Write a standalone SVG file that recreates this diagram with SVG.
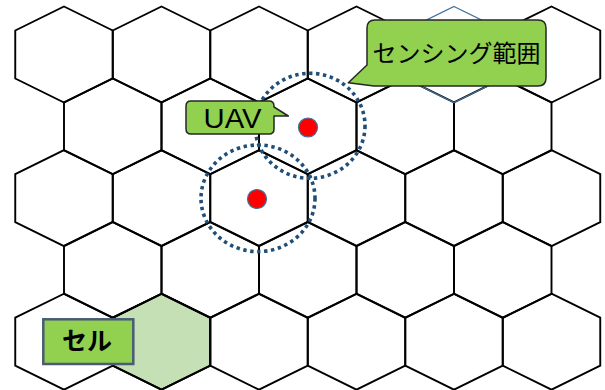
<svg xmlns="http://www.w3.org/2000/svg" xmlns:xlink="http://www.w3.org/1999/xlink" width="605" height="390" viewBox="0 0 605 390">
<style>
.h{fill:none;stroke:#000;stroke-width:1.9;stroke-linejoin:miter}
.hb{fill:none;stroke:#41719C;stroke-width:1.3}
.hg{fill:#C5E0B4;stroke:#000;stroke-width:1.9}
.rng{fill:none;stroke:#1F4E79;stroke-width:3.6;stroke-dasharray:3.4 3.6}
.dot{fill:#FF0000;stroke:#41719C;stroke-width:1.2}
.call{fill:#92D050;stroke:#262626;stroke-width:1.5;stroke-linejoin:round}
.jp{font-family:"Noto Sans CJK JP","Noto Sans",sans-serif;fill:#000}
.lat{font-family:"Liberation Sans","Noto Sans",sans-serif;fill:#000}
</style>
<defs>
<polygon id="hex" points="0,-48 48.75,-24 48.75,24 0,48 -48.75,24 -48.75,-24"/>
</defs>
<rect width="605" height="390" fill="#fff"/>
<g id="grid">
<use href="#hex" class="hg" x="161.5" y="341.7"/>
<g id="row1">
<use href="#hex" class="h" x="64" y="54.5"/>
<use href="#hex" class="h" x="161.5" y="54.5"/>
<use href="#hex" class="h" x="259" y="54.5"/>
<use href="#hex" class="h" x="356.5" y="54.5"/>
<use href="#hex" class="h" x="551.5" y="54.5"/>
</g>
<g id="row2">
<use href="#hex" class="h" x="112.75" y="126.3"/>
<use href="#hex" class="h" x="210.25" y="126.3"/>
<use href="#hex" class="h" x="307.75" y="126.3"/>
<use href="#hex" class="h" x="405.25" y="126.3"/>
<use href="#hex" class="h" x="502.75" y="126.3"/>
</g>
<g id="row3">
<use href="#hex" class="h" x="64" y="198.1"/>
<use href="#hex" class="h" x="161.5" y="198.1"/>
<use href="#hex" class="h" x="259" y="198.1"/>
<use href="#hex" class="h" x="356.5" y="198.1"/>
<use href="#hex" class="h" x="454" y="198.1"/>
<use href="#hex" class="h" x="551.5" y="198.1"/>
</g>
<g id="row4">
<use href="#hex" class="h" x="112.75" y="269.9"/>
<use href="#hex" class="h" x="210.25" y="269.9"/>
<use href="#hex" class="h" x="307.75" y="269.9"/>
<use href="#hex" class="h" x="405.25" y="269.9"/>
<use href="#hex" class="h" x="502.75" y="269.9"/>
</g>
<g id="row5">
<use href="#hex" class="h" x="64" y="341.7"/>
<use href="#hex" class="h" x="161.5" y="341.7"/>
<use href="#hex" class="h" x="259" y="341.7"/>
<use href="#hex" class="h" x="356.5" y="341.7"/>
<use href="#hex" class="h" x="454" y="341.7"/>
<use href="#hex" class="h" x="551.5" y="341.7"/>
</g>
<use href="#hex" class="hb" x="454" y="54.5"/>
</g>
<g id="range1"><ellipse class="rng" cx="310" cy="125.8" rx="55" ry="52.5"/></g>
<g id="range2"><ellipse class="rng" cx="258" cy="198.3" rx="57" ry="53.3"/></g>
<g id="uav1"><circle class="dot" cx="308" cy="127.5" r="9.5"/></g>
<g id="uav2"><circle class="dot" cx="257" cy="199" r="9.5"/></g>
<g id="label-uav">
<path class="call" d="M191,101 H269 Q274,101 274,106 V107 L288.3,116 L274,116 V129 Q274,134 269,134 H191 Q186,134 186,129 V106 Q186,101 191,101 Z"/>
<text class="lat" x="232.5" y="128" font-size="27" text-anchor="middle" textLength="58" lengthAdjust="spacingAndGlyphs">UAV</text>
</g>
<g id="label-range">
<path class="call" d="M375,20 H538 Q546,20 546,28 V78 Q546,86 538,86 H374 L348.3,82.7 L367,65 V28 Q367,20 375,20 Z"/>
<text class="jp" x="456.5" y="62" font-size="24" text-anchor="middle">センシング範囲</text>
</g>
<g id="label-cell">
<rect x="43.3" y="319.3" width="90" height="44.7" fill="#92D050" stroke="#4A5A78" stroke-width="2.5"/>
<text class="jp" x="87" y="350" font-size="25" font-weight="700" text-anchor="middle">セル</text>
</g>
</svg>
